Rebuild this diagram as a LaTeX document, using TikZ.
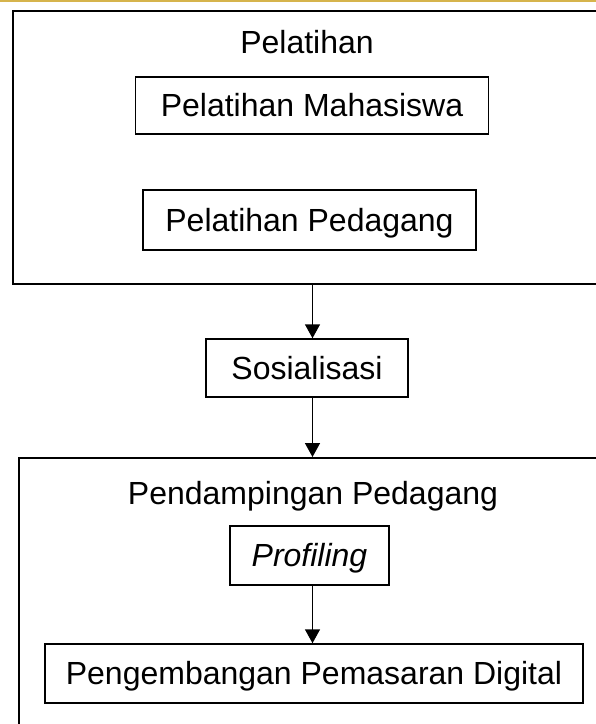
\documentclass[tikz,border=0pt]{standalone}
\usepackage{fontspec}
\setmainfont{Liberation Sans}
\usetikzlibrary{arrows.meta}
\definecolor{goldline}{RGB}{214,180,76}
\begin{document}
\begin{tikzpicture}[x=1pt,y=1pt,
  font=\fontsize{32}{38}\selectfont,
  obox/.style={draw, line width=1.8pt, inner sep=0pt, anchor=north west},
  ibox/.style={draw, line width=1.5pt, inner sep=0pt, text height=22.9pt, text depth=0pt},
  lbl/.style={inner sep=0pt, text height=22.9pt, text depth=0pt},
  arr/.style={line width=1.5pt, -{Triangle[width=15pt,length=14pt]}}]
\useasboundingbox (0,0) rectangle (596,-724);
\fill[white] (0,0) rectangle (596,-724);
\coordinate (topL) at (0,-1);
\coordinate (topR) at (596,-1);
\draw[goldline, line width=2.5pt] (topL) -- (topR);
\coordinate (ax) at (312.5,0);
% first group
\node[obox, minimum width=640pt, minimum height=273pt] (pel) at (12,-10) {};
\node[lbl] (pelt) at (307,-42) {Pelatihan};
\node[ibox, minimum width=353pt, minimum height=57pt] (mhs) at (312,-105.3) {Pelatihan Mahasiswa};
\node[ibox, minimum width=333pt, minimum height=60pt] (pdg) at (309.5,-220) {Pelatihan Pedagang};
% middle
\node[ibox, minimum width=202pt, minimum height=58pt] (sos) at (307,-368) {Sosialisasi};
% second group
\node[obox, minimum width=640pt, minimum height=320pt] (pend) at (18,-457) {};
\node[lbl] (pendt) at (313,-493) {Pendampingan Pedagang};
\node[ibox, minimum width=159pt, minimum height=59pt] (prof) at (309.5,-555.5) {\itshape Profiling};
\node[ibox, minimum width=538pt, minimum height=59pt] (peng) at (314,-673.5) {Pengembangan Pemasaran Digital};
% arrows
\draw[arr] (pel.south -| ax) -- (sos.north -| ax);
\draw[arr] (sos.south -| ax) -- (pend.north -| ax);
\draw[arr] (prof.south -| ax) -- (peng.north -| ax);
\end{tikzpicture}
\end{document}
